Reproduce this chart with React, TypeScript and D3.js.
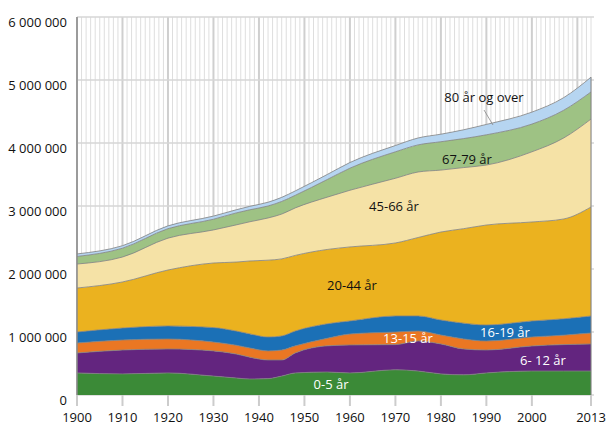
import React from 'react';
import * as d3 from 'd3';

const years = [1900, 1910, 1920, 1930, 1935, 1938, 1942, 1945, 1948, 1955, 1960, 1970, 1975, 1980, 1985, 1990, 2000, 2007, 2013];
// values in thousands
const age0_5 = [350, 335, 350, 300, 270, 254, 260, 300, 350, 365, 350, 400, 380, 335, 320, 350, 380, 380, 380];
const age6_12 = [317, 379, 380, 400, 380, 346, 296, 256, 317, 415, 444, 400, 477, 475, 410, 364, 398, 420, 430];
const age13_15 = [158, 159, 159, 140, 140, 146, 144, 158, 113, 120, 174, 200, 159, 142, 160, 143, 143, 150, 174];
const age16_19 = [175, 190, 206, 230, 225, 224, 220, 223, 236, 230, 207, 254, 238, 238, 250, 254, 254, 260, 270];
const age20_44 = [698, 731, 889, 1025, 1095, 1157, 1220, 1223, 1200, 1180, 1175, 1159, 1246, 1397, 1500, 1587, 1571, 1584, 1730];
const age45_66 = [381, 396, 506, 525, 590, 623, 670, 712, 754, 830, 900, 1027, 1040, 983, 970, 952, 1114, 1286, 1396];
const age67_79 = [120, 140, 150, 170, 190, 190, 190, 200, 200, 280, 350, 420, 430, 450, 460, 480, 440, 440, 430];
const age80 = [40, 40, 45, 50, 50, 55, 60, 65, 70, 80, 90, 100, 110, 120, 140, 165, 190, 200, 235];

const seriesNames = ['0-5 år', '6- 12 år', '13-15 år', '16-19 år', '20-44 år', '45-66 år', '67-79 år', '80 år og over'];
const seriesValues = [age0_5, age6_12, age13_15, age16_19, age20_44, age45_66, age67_79, age80];
const seriesColors = ['#3b8a37', '#63257f', '#ea7723', '#1b70b6', '#ebb21f', '#f5e2a6', '#9ec284', '#b6d5f1'];

const xTicks = [1900, 1910, 1920, 1930, 1940, 1950, 1960, 1970, 1980, 1990, 2000, 2013];
const yTicks = [0, 1000000, 2000000, 3000000, 4000000, 5000000, 6000000];
const UNIT = 1000;

const W = 609;
const H = 440;
const FONT = '"Open Sans", "Noto Sans", sans-serif';

export default function App() {
  const x = d3.scaleLinear().domain([1900, 2013]).range([77, 591]);
  const y = d3.scaleLinear().domain([0, 6000000]).range([395, 17]);

  const table = years.map((yr, i) => {
    const row: any = { year: yr };
    seriesNames.forEach((n, k) => (row[n] = seriesValues[k][i] * UNIT));
    return row;
  });
  const stacked = d3.stack<any>().keys(seriesNames)(table);
  const area = d3
    .area<any>()
    .x((d) => x(d.data.year))
    .y0((d) => y(d[0]))
    .y1((d) => y(d[1]))
    .curve(d3.curveMonotoneX);
  const line = d3
    .line<any>()
    .x((d) => x(d.data.year))
    .y((d) => y(d[1]))
    .curve(d3.curveMonotoneX);

  const fmt = (v: number) => d3.format(',')(v).replace(/,/g, ' ');
  const allYears = d3.range(1900, 2014);

  const labels = [
    { t: '0-5 år', x: 331, y: 384, c: '#fff' },
    { t: '6- 12 år', x: 543, y: 360, c: '#fff' },
    { t: '13-15 år', x: 408, y: 338, c: '#fff' },
    { t: '16-19 år', x: 505, y: 332, c: '#fff' },
    { t: '20-44 år', x: 352, y: 285, c: '#111' },
    { t: '45-66 år', x: 394, y: 206, c: '#111' },
    { t: '67-79 år', x: 467, y: 159, c: '#111' },
    { t: '80 år og over', x: 484, y: 97, c: '#111' },
  ];

  const top = stacked[stacked.length - 1];

  return (
    <div style={{ position: 'absolute', left: 0, top: 0 }}>
      <svg width={W} height={H} style={{ display: 'block', fontFamily: FONT }}>
        <rect width={W} height={H} fill="#fff" />
        {allYears.map((yr) => (
          <line
            key={'v' + yr}
            x1={x(yr)}
            x2={x(yr)}
            y1={y(6000000)}
            y2={y(0)}
            stroke={yr % 10 === 0 ? '#cfcfcf' : '#dedede'}
            strokeWidth={yr % 10 === 0 ? 2 : 1}
          />
        ))}
        {yTicks.map((v) => (
          <line key={'h' + v} x1={x(1900)} x2={594} y1={y(v)} y2={y(v)} stroke="#d6d6d6" strokeWidth={1.5} />
        ))}
        {stacked.map((s, i) => (
          <path key={'a' + i} d={area(s) || ''} fill={seriesColors[i]} />
        ))}
        {stacked.map((s, i) => (
          <path key={'l' + i} d={line(s) || ''} fill="none" stroke="#808080" strokeWidth={0.8} />
        ))}
        <line x1={x(2013)} x2={x(2013)} y1={y(0)} y2={y(top[years.length - 1][1])} stroke="#808080" strokeWidth={1} />
        <line x1={x(1900)} x2={x(1900)} y1={y(6000000)} y2={y(0) + 1} stroke="#8a8a8a" strokeWidth={1.5} />
        {xTicks.map((t) => (
          <g key={'xt' + t}>
            <line x1={x(t)} x2={x(t)} y1={y(0)} y2={y(0) + 11} stroke="#cccccc" strokeWidth={2} />
            <text x={x(t)} y={422} textAnchor="middle" fontSize={13} fill="#111">
              {t}
            </text>
          </g>
        ))}
        {yTicks.map((v) => (
          <text key={'yt' + v} x={67} y={y(v) + 10} textAnchor="end" fontSize={13} fill="#111">
            {fmt(v)}
          </text>
        ))}
        <line x1={484} y1={110} x2={493} y2={125} stroke="#888" strokeWidth={0.8} />
        {labels.map((l) => (
          <text key={l.t} x={l.x} y={l.y + 4.5} textAnchor="middle" fontSize={13} fill={l.c}>
            {l.t}
          </text>
        ))}
      </svg>
    </div>
  );
}
